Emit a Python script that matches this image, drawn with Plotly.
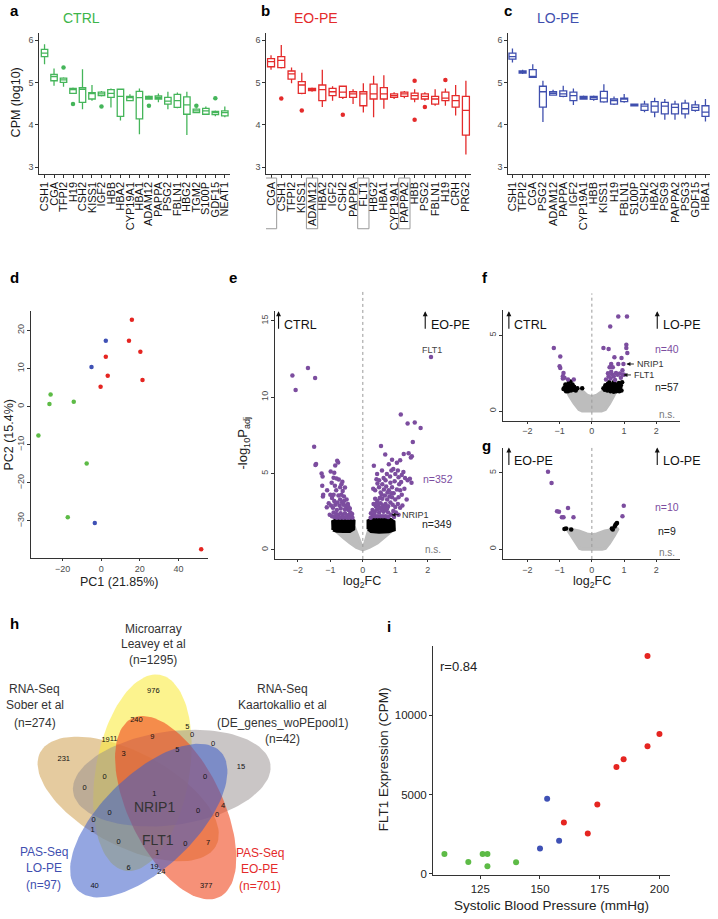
import numpy as np
import plotly.graph_objects as go

W, H = 718, 919
FONT = 'Liberation Sans, Arial, sans-serif'
PURPLE = '#7C4D9F'
GREYPT = '#BDBDBD'
AXC = '#333333'
TICKC = '#4d4d4d'

# ---------------- panel a (CTRL) ----------------
a_genes = ['CSH1', 'CGA', 'TFPI2', 'H19', 'CSH2', 'KISS1', 'IGF2', 'HBB', 'HBA2', 'CYP19A1',
           'HBA1', 'ADAM12', 'PAPPA', 'PSG2', 'FBLN1', 'HBG2', 'TGM2', 'S100P', 'GDF15', 'NEAT1']
a_low = [5.43, 4.92, 4.90, 4.73, 4.37, 4.57, 4.67, 4.41, 4.10, 4.56, 3.78, 4.59, 4.53, 4.37, 4.39, 3.76, 4.28, 4.25, 4.20, 4.18]
a_q1 = [5.61, 5.04, 5.00, 4.74, 4.53, 4.61, 4.69, 4.65, 4.20, 4.57, 4.14, 4.61, 4.61, 4.49, 4.41, 4.25, 4.29, 4.25, 4.24, 4.21]
a_med = [5.69, 5.14, 5.06, 4.83, 4.84, 4.74, 4.73, 4.74, 4.67, 4.64, 4.64, 4.64, 4.64, 4.56, 4.57, 4.47, 4.33, 4.33, 4.29, 4.29]
a_q3 = [5.78, 5.19, 5.10, 4.86, 4.88, 4.76, 4.77, 4.83, 4.84, 4.67, 4.79, 4.67, 4.68, 4.65, 4.72, 4.66, 4.37, 4.39, 4.32, 4.33]
a_high = [5.90, 5.33, 5.12, 4.88, 5.31, 4.94, 4.80, 4.86, 4.84, 4.72, 4.86, 4.69, 4.74, 4.78, 4.76, 4.78, 4.39, 4.43, 4.34, 4.43]
a_out_gene = ['TFPI2', 'H19', 'IGF2', 'ADAM12', 'TGM2', 'GDF15']
a_out_val = [5.35, 4.49, 4.43, 4.45, 4.45, 4.63]

# ---------------- panel b (EO-PE) ----------------
b_genes = ['CGA', 'CSH1', 'TFPI2', 'KISS1', 'ADAM12', 'HBA2', 'IGF2', 'CSH2', 'PAPPA', 'FLT1',
           'HBG2', 'HBA1', 'CYP19A1', 'PAPPA2', 'HBB', 'PSG2', 'FBLN1', 'H19', 'CRH', 'PRG2']
b_low = [5.30, 5.33, 4.98, 4.72, 4.78, 4.42, 4.57, 4.61, 4.49, 4.29, 4.18, 4.38, 4.61, 4.63, 4.53, 4.57, 4.45, 4.45, 4.22, 3.30]
b_q1 = [5.37, 5.35, 5.08, 4.74, 4.81, 4.57, 4.69, 4.65, 4.65, 4.45, 4.61, 4.61, 4.65, 4.67, 4.61, 4.61, 4.49, 4.57, 4.42, 3.76]
b_med = [5.49, 5.52, 5.20, 4.94, 4.85, 4.83, 4.78, 4.77, 4.73, 4.73, 4.73, 4.73, 4.69, 4.73, 4.69, 4.67, 4.61, 4.63, 4.57, 4.34]
b_q3 = [5.56, 5.61, 5.27, 5.02, 4.86, 4.94, 4.86, 4.91, 4.78, 4.78, 4.96, 4.88, 4.73, 4.77, 4.75, 4.73, 4.67, 4.77, 4.69, 4.67]
b_high = [5.64, 5.88, 5.35, 5.23, 4.88, 5.30, 4.91, 4.91, 4.84, 4.98, 5.16, 5.17, 4.77, 4.80, 4.84, 4.77, 4.84, 4.86, 4.94, 5.04]
b_out_gene = ['CSH1', 'KISS1', 'CSH2', 'HBB', 'HBB', 'PSG2', 'H19']
b_out_val = [4.62, 4.34, 4.24, 5.04, 4.12, 4.42, 5.06]
b_boxed = ['CGA', 'ADAM12', 'FLT1', 'PAPPA2']

# ---------------- panel c (LO-PE) ----------------
c_genes = ['CSH1', 'TFPI2', 'CGA', 'PSG2', 'ADAM12', 'PAPPA', 'IGF2', 'CYP19A1', 'HBB', 'KISS1',
           'H19', 'FBLN1', 'S100P', 'CSH2', 'HBA2', 'PSG9', 'PAPPA2', 'PSG3', 'GDF15', 'HBA1']
c_low = [5.47, 5.20, 5.12, 4.07, 4.69, 4.65, 4.47, 4.59, 4.57, 4.52, 4.47, 4.52, 4.45, 4.30, 4.18, 4.12, 4.12, 4.15, 4.31, 4.08]
c_q1 = [5.55, 5.22, 5.12, 4.42, 4.70, 4.67, 4.57, 4.61, 4.60, 4.54, 4.49, 4.55, 4.45, 4.34, 4.30, 4.26, 4.26, 4.26, 4.34, 4.20]
c_med = [5.61, 5.25, 5.14, 4.78, 4.74, 4.73, 4.69, 4.64, 4.64, 4.63, 4.57, 4.61, 4.47, 4.44, 4.44, 4.44, 4.41, 4.38, 4.41, 4.30]
c_q3 = [5.69, 5.27, 5.30, 4.91, 4.78, 4.80, 4.77, 4.67, 4.67, 4.79, 4.61, 4.63, 4.49, 4.49, 4.55, 4.53, 4.49, 4.51, 4.47, 4.45]
c_high = [5.80, 5.30, 5.43, 5.04, 4.83, 4.92, 4.86, 4.69, 4.69, 4.96, 4.67, 4.73, 4.49, 4.57, 4.64, 4.61, 4.57, 4.59, 4.57, 4.61]

# ---------------- panel d (PCA) ----------------
pc1 = [15.9, 2.4, 14.4, 20.3, 2.4, -5.0, 3.4, 21.4, -0.3, -26.2, -26.8, -14.2, -32.5, -7.5, -17.3, -3.3, 51.8]
pc2 = [22.8, 17.3, 17.3, 14.4, 13.1, 10.4, 8.1, 7.0, 5.2, 3.2, 0.7, 1.3, -7.6, -14.9, -29.0, -30.5, -37.4]
pc_group = ['EO', 'LO', 'EO', 'EO', 'EO', 'LO', 'EO', 'EO', 'EO', 'CTRL', 'CTRL', 'CTRL', 'CTRL', 'CTRL', 'CTRL', 'LO', 'EO']

# ---------------- panel e (CTRL vs EO-PE volcano) ----------------
e_sig_x = [-2.17, -2.07, -1.69, -1.47, -1.50, -1.44, -1.46, -1.27, -1.24, -0.99, -0.79, -0.76, -0.85, -0.88, -0.90, -0.81,
           -0.74, -0.63, -0.55, -0.62, -1.25, -1.22, -1.23, -1.10, -1.00, -0.95, -0.88, -0.75, -0.66, -0.58, -0.50, -0.46,
           -1.11, -1.05, -0.98, -0.92, -0.85, -0.80, -0.72, -0.68, -0.60, -0.55, -0.50, -0.44, -0.38, -0.33, -0.90, -0.82,
           -0.75, -0.68, -0.62, -0.55, -0.48, -0.42, -0.36, -0.95, -0.88, -0.80, -0.70, -0.60, -0.50, -0.42, -0.32, -1.02,
           -0.78, -0.70, -0.64, -0.90, -0.82, -0.70, -0.66, -0.96, -0.86, -0.58, -0.52, -0.45, -0.40,
           2.10, 1.17, 1.38, 1.60, 1.78, 1.54, 0.56, 1.41, 1.26, 1.51, 1.48, 0.69, 0.34, 0.90, 1.05, 0.80, 1.15, 0.44, 0.42,
           0.59, 0.74, 0.88, 1.00, 1.10, 1.20, 1.30, 1.38, 1.45, 1.25, 0.98, 0.85, 0.70, 0.60, 0.50, 0.45, 0.38, 0.55, 0.65,
           0.72, 0.80, 0.90, 0.95, 1.05, 1.12, 1.20, 1.28, 1.35, 1.10, 1.00, 0.90, 0.82, 0.75, 0.68, 0.60, 0.52, 0.45, 0.38,
           0.33, 0.40, 0.48, 0.55, 0.62, 0.70, 0.78, 0.85, 0.92, 1.00, 1.08, 1.15, 1.22, 0.30, 0.37, 0.44, 0.50, 0.57, 0.64,
           0.71, 0.78, 0.87, 0.94, 1.02, 1.10, 0.30, 0.38, 0.46, 0.54, 0.62, 0.70, 0.78, 0.96, 0.35, 0.60, 0.52, 0.67, 0.75,
           0.42, 0.58, 0.88, 0.76, 0.64, 0.50, 0.94, 0.84, 1.08, 1.18, 0.32, 1.50, 1.15, 0.25, 0.24]
e_sig_y = [11.43, 10.48, 11.91, 11.26, 6.76, 5.62, 5.55, 5.00, 4.80, 5.13, 5.83, 5.72, 5.52, 5.05, 4.72, 4.68,
           4.60, 4.46, 4.09, 3.85, 4.20, 3.60, 3.50, 3.90, 3.60, 3.40, 3.20, 3.55, 3.60, 3.50, 3.30, 3.00,
           2.78, 3.05, 2.90, 2.75, 2.95, 2.60, 2.90, 2.70, 2.95, 2.65, 2.70, 2.60, 2.45, 2.35, 2.45, 2.35,
           2.30, 2.40, 2.25, 2.40, 2.25, 2.30, 2.20, 2.20, 2.15, 2.10, 2.10, 2.10, 2.10, 2.10, 2.10, 2.30,
           3.10, 3.30, 3.10, 3.60, 3.90, 4.10, 4.30, 4.40, 4.20, 3.20, 2.90, 2.85, 2.70,
           12.63, 8.87, 8.28, 8.35, 7.98, 7.07, 6.80, 6.33, 6.28, 6.13, 6.05, 6.24, 5.50, 5.90, 5.70, 5.60, 5.87, 4.96, 4.63,
           5.20, 4.96, 5.20, 4.96, 4.75, 4.90, 4.70, 4.55, 4.65, 5.10, 4.50, 4.40, 4.55, 4.30, 4.10, 4.35, 3.90, 3.75, 3.95,
           4.15, 3.90, 4.10, 3.70, 3.95, 4.30, 3.60, 4.00, 3.30, 3.45, 3.30, 3.45, 3.50, 3.30, 3.55, 3.35, 3.40, 3.20, 3.35,
           3.00, 2.85, 2.95, 3.05, 2.90, 3.00, 2.85, 3.10, 2.95, 2.80, 3.00, 2.75, 2.90, 2.60, 2.50, 2.65, 2.45, 2.60, 2.50,
           2.60, 2.45, 2.30, 2.55, 2.45, 2.30, 2.20, 2.20, 2.20, 2.20, 2.20, 2.20, 2.15, 2.15, 2.35, 2.70, 2.75, 2.80, 2.70,
           3.05, 3.60, 3.70, 3.75, 4.70, 4.55, 5.30, 4.80, 5.20, 4.45, 4.00, 4.40, 3.90, 2.40, 2.10]
# outline of the dense black (significant, small |FC|) band, left then right (None separates)
e_blk_x = [-0.92, -0.93, -0.80, -0.55, -0.35, -0.27, -0.28, -0.40, -0.60, -0.80, -0.92, None,
           0.16, 0.16, 0.30, 0.60, 0.85, 0.96, 0.97, 0.80, 0.50, 0.25, 0.16]
e_blk_y = [1.30, 1.85, 1.98, 2.02, 2.00, 1.90, 1.35, 1.20, 1.20, 1.22, 1.30, None,
           1.35, 1.90, 2.02, 2.05, 2.00, 1.85, 1.30, 1.18, 1.15, 1.20, 1.35]
# outline of the dense grey (n.s.) cloud
e_ns_x = [-0.95, -0.80, -0.60, -0.40, -0.20, 0.00, 0.20, 0.45, 0.65, 0.85, 0.98, 0.20, 0.05, 0.00, -0.05, -0.25, -0.95]
e_ns_y = [1.45, 1.15, 0.80, 0.45, 0.15, 0.00, 0.15, 0.45, 0.80, 1.15, 1.45, 1.45, 0.35, 0.10, 0.35, 1.45, 1.45]

# ---------------- panel f (CTRL vs LO-PE volcano) ----------------
f_sig_x = [-1.18, -0.98, -1.00, -0.98, -0.88, -0.90, -0.74, -0.56, -0.90, -0.85,
           0.82, 1.09, 0.57, 0.36, 0.52, 1.07, 1.07, 1.10, 0.70, 0.92, 0.60, 0.82, 0.98, 0.55, 0.75,
           0.87, 0.96, 0.63, 0.52, 0.44, 0.68, 0.80, 0.90, 0.58, 0.72, 0.60, 0.50, 0.95, 0.65, 1.00]
f_sig_y = [4.17, 3.60, 2.96, 2.85, 2.52, 2.15, 2.08, 2.08, 2.30, 2.20,
           6.25, 6.25, 5.59, 4.17, 4.10, 4.39, 4.17, 3.84, 3.55, 3.51, 3.11, 3.11, 3.11, 2.89, 2.52,
           2.48, 2.41, 2.41, 2.30, 2.08, 2.30, 2.40, 2.20, 2.15, 2.05, 2.60, 2.50, 2.70, 2.90, 2.40]
f_mid_x = [-0.85, -0.82, -0.78, -0.75, -0.72, -0.70, -0.68, -0.65, -0.62, -0.60, -0.57, -0.55, -0.80, -0.74, -0.66,
           -0.50, -0.45, -0.30, -0.88, -0.64,
           0.36, 0.40, 0.42, 0.45, 0.48, 0.50, 0.52, 0.55, 0.57, 0.60, 0.62, 0.64, 0.66, 0.68, 0.70, 0.72, 0.74,
           0.76, 0.78, 0.80, 0.82, 0.84, 0.86, 0.88, 0.90, 0.92, 0.94, 0.46, 0.54, 0.58, 0.65, 0.70, 0.75, 0.85,
           0.56, 0.62, 0.68]
f_mid_y = [1.55, 1.75, 1.40, 1.60, 1.85, 1.45, 1.65, 1.35, 1.55, 1.75, 1.40, 1.60, 1.30, 1.30, 1.95,
           1.35, 1.50, 1.50, 1.45, 1.48,
           1.50, 1.40, 1.70, 1.55, 1.35, 1.80, 1.60, 1.45, 1.70, 1.55, 1.35, 1.75, 1.50, 1.90, 1.40, 1.65, 1.55,
           1.30, 1.75, 1.45, 1.60, 1.85, 1.40, 1.55, 1.70, 1.35, 1.90, 1.65, 1.90, 1.30, 1.62, 1.78, 1.45, 1.30,
           1.55, 1.68, 1.28]
f_ns_x = [-0.82, -0.70, -0.55, -0.40, -0.30, 0.30, 0.42, 0.55, 0.68, 0.80, 0.35, 0.15, 0.00, -0.15, -0.30, -0.82]
f_ns_y = [1.55, 1.00, 0.50, 0.10, 0.00, 0.00, 0.10, 0.50, 1.00, 1.55, 1.35, 1.05, 0.95, 1.05, 1.35, 1.55]

# ---------------- panel g (EO-PE vs LO-PE volcano) ----------------
g_sig_x = [-1.36, -1.25, -1.08, -0.74, -0.93, -0.88, -0.57, 0.99, 0.95, -1.02]
g_sig_y = [5.07, 4.34, 2.48, 2.70, 2.10, 2.10, 2.10, 2.85, 2.15, 2.45]
g_mid_x = [-0.85, -0.80, -0.64, 0.65, 0.71, 0.76, 0.78, 0.62, 0.73]
g_mid_y = [1.32, 1.36, 1.29, 1.29, 1.49, 1.67, 1.72, 1.36, 1.58]
g_ns_x = [-0.78, -0.65, -0.50, -0.38, -0.30, 0.32, 0.42, 0.55, 0.70, 0.82, 0.40, 0.15, 0.00, -0.15, -0.40, -0.78]
g_ns_y = [1.35, 0.90, 0.40, 0.05, 0.00, 0.00, 0.05, 0.40, 0.90, 1.35, 1.20, 1.00, 0.95, 1.00, 1.20, 1.35]

# ---------------- panel h (5-set Venn) ----------------
venn_names = ['RNA-Seq Sober et al', 'Microarray Leavey et al', 'RNA-Seq Kaartokallio et al', 'PAS-Seq EO-PE', 'PAS-Seq LO-PE']
venn_rot_index = [4, 0, 1, 2, 3]
venn_fill = ['rgba(208,160,80,0.55)', 'rgba(250,234,60,0.58)', 'rgba(150,142,142,0.50)',
             'rgba(240,72,30,0.60)', 'rgba(60,92,200,0.55)']
venn_counts = ['976', '240', '5', '0', '19', '11', '9', '3', '5', '0', '231', '15', '0', '0', '0', '1', '4',
               '0', '0', '0', '0', '1', '0', '0', '7', '1', '6', '19', '24', '40', '377']
venn_count_px = [(152, 695), (135, 724), (186, 731), (191, 739), (104, 744), (112, 743), (151, 741), (122, 758),
                 (176, 754), (212, 748), (62, 763), (240, 771), (103, 781), (204, 781), (83, 792), (153, 798),
                 (222, 811), (108, 818), (197, 816), (216, 820), (92, 825), (91, 835), (117, 847), (184, 849),
                 (207, 848), (156, 858), (127, 873), (153, 872), (160, 877), (93, 891), (205, 891)]

# ---------------- panel i (FLT1 vs SBP) ----------------
sbp = [110, 120, 126, 128, 128, 140, 150, 153, 158, 160, 170, 174, 182, 185, 195, 200, 195]
flt1 = [1250, 750, 1250, 1250, 490, 730, 1600, 4750, 2100, 3250, 2550, 4380, 6750, 7230, 8050, 8820, 13740]
i_group = ['CTRL'] * 6 + ['LO'] * 3 + ['EO'] * 8

GCOL = {'CTRL': '#5DBB46', 'LO': '#3F51B5', 'EO': '#E52521'}

# =====================================================================
def dx(p0, p1):
    return [p0 / W, p1 / W]


def dy(top, bottom):
    return [1 - bottom / H, 1 - top / H]


def axis(**kw):
    d = dict(showline=True, linecolor=AXC, linewidth=1, ticks='outside', ticklen=2.5, tickcolor=AXC,
             tickwidth=1, showgrid=False, zeroline=False,
             tickfont=dict(size=9, color=TICKC, family=FONT))
    d.update(kw)
    return d


fig = go.Figure()
layout = dict(width=W, height=H, margin=dict(l=0, r=0, t=0, b=0), paper_bgcolor='white',
              plot_bgcolor='rgba(0,0,0,0)', showlegend=False, font=dict(family=FONT))
annotations = []
shapes = []


def ann(text, px, py, size=12, color='#222', xanchor='center', yanchor='middle', textangle=0, bold=False):
    if bold:
        text = '<b>' + text + '</b>'
    annotations.append(dict(text=text, x=px / W, y=1 - py / H, xref='paper', yref='paper', showarrow=False,
                            xanchor=xanchor, yanchor=yanchor, textangle=textangle,
                            font=dict(size=size, color=color, family=FONT)))


def arrow(px_tip, py_tip, ax, ay, width=1.1):
    annotations.append(dict(text='', x=px_tip / W, y=1 - py_tip / H, xref='paper', yref='paper',
                            showarrow=True, ax=ax, ay=ay, arrowhead=2, arrowsize=0.9,
                            arrowwidth=width, arrowcolor='#111', standoff=0))


# ---------------- boxes a, b, c ----------------
box_panels = [
    (1, a_genes, a_low, a_q1, a_med, a_q3, a_high, a_out_gene, a_out_val, '#45B55A', (37, 229), [-0.6, 19.55]),
    (2, b_genes, b_low, b_q1, b_med, b_q3, b_high, b_out_gene, b_out_val, '#E42B2B', (265, 471), [-0.5, 19.5]),
    (3, c_genes, c_low, c_q1, c_med, c_q3, c_high, [], [], '#3F4FAE', (508, 711), [-0.45, 19.45]),
]
for n, genes, lo, q1, med, q3, hi, og, ov, col, (x0, x1), xr in box_panels:
    xa = 'x' if n == 1 else f'x{n}'
    ya = 'y' if n == 1 else f'y{n}'
    pos = list(range(len(genes)))
    fig.add_trace(go.Box(x=pos, lowerfence=lo, q1=q1, median=med, q3=q3, upperfence=hi,
                         xaxis=xa, yaxis=ya, line=dict(color=col, width=1.3), fillcolor='white',
                         whiskerwidth=0, width=0.68, boxpoints=False, hoverinfo='skip'))
    if og:
        fig.add_trace(go.Scatter(x=[genes.index(g) for g in og], y=ov, mode='markers', xaxis=xa, yaxis=ya,
                                 marker=dict(color=col, size=4.5), hoverinfo='skip'))
    layout[f'xaxis{n}' if n > 1 else 'xaxis'] = axis(domain=dx(x0, x1), anchor=ya, range=xr,
                                                    tickmode='array', tickvals=pos, ticktext=genes,
                                                    tickangle=-90,
                                                    tickfont=dict(size=11, color='#111', family=FONT))
    layout[f'yaxis{n}' if n > 1 else 'yaxis'] = axis(domain=dy(33, 175), anchor=xa, range=[2.84, 6.17],
                                                    tickvals=[3, 4, 5, 6])

for g in b_boxed:
    i = b_genes.index(g)
    shapes.append(dict(type='rect', xref='x2', yref='paper', x0=i - 0.55, x1=i + 0.55,
                       y0=1 - 230 / H, y1=1 - 179 / H, line=dict(color='#9a9a9a', width=1)))

ann('a', 13, 11, 15, '#000', bold=True)
ann('b', 265, 11, 15, '#000', bold=True)
ann('c', 508, 11, 15, '#000', bold=True)
ann('CTRL', 80, 18, 14, '#3DB54A')
ann('EO-PE', 315, 18, 14, '#E42B2B')
ann('LO-PE', 558, 18, 14, '#3F4FAE')
ann('CPM (log10)', 14, 103, 12.5, '#1a1a1a', textangle=-90)

# ---------------- d: PCA ----------------
for grp in ['CTRL', 'LO', 'EO']:
    xs = [x for x, gg in zip(pc1, pc_group) if gg == grp]
    ys = [y for y, gg in zip(pc2, pc_group) if gg == grp]
    fig.add_trace(go.Scatter(x=xs, y=ys, mode='markers', xaxis='x4', yaxis='y4',
                             marker=dict(color=GCOL[grp], size=4.5), hoverinfo='skip'))
layout['xaxis4'] = axis(domain=dx(29, 207), anchor='y4', range=[-36.4, 55.4], tickvals=[-20, 0, 20, 40],
                        ticklen=2)
layout['yaxis4'] = axis(domain=dy(313, 561), anchor='x4', range=[-39.7, 25], tickvals=[-30, -20, -10, 0, 10, 20],
                        tickangle=-90)
ann('d', 13, 279, 15, '#000', bold=True)
ann('PC1 (21.85%)', 118, 585, 12.5, '#222')
ann('PC2 (15.4%)', 7, 437, 12.5, '#222', textangle=-90)


# ---------------- e, f, g: volcano ----------------
def volcano(n, ns_x, ns_y, mid_x, mid_y, sig_x, sig_y, mid_poly):
    xa, ya = f'x{n}', f'y{n}'
    fig.add_trace(go.Scatter(x=ns_x, y=ns_y, mode='lines', fill='toself', fillcolor=GREYPT,
                             line=dict(color=GREYPT, width=3), xaxis=xa, yaxis=ya, hoverinfo='skip'))
    if mid_poly:
        fig.add_trace(go.Scatter(x=mid_x, y=mid_y, mode='lines', fill='toself', fillcolor='#000',
                                 line=dict(color='#000', width=3), xaxis=xa, yaxis=ya, hoverinfo='skip'))
    else:
        fig.add_trace(go.Scatter(x=mid_x, y=mid_y, mode='markers', marker=dict(color='#000', size=4.5),
                                 xaxis=xa, yaxis=ya, hoverinfo='skip'))
    fig.add_trace(go.Scatter(x=sig_x, y=sig_y, mode='markers', marker=dict(color=PURPLE, size=4.5),
                             xaxis=xa, yaxis=ya, hoverinfo='skip'))


volcano(5, e_ns_x, e_ns_y, e_blk_x, e_blk_y, e_sig_x, e_sig_y, True)
volcano(6, f_ns_x, f_ns_y, f_mid_x, f_mid_y, f_sig_x, f_sig_y, False)
volcano(7, g_ns_x, g_ns_y, g_mid_x, g_mid_y, g_sig_x, g_sig_y, False)

layout['xaxis5'] = axis(domain=dx(274, 451), anchor='y5', range=[-2.71, 2.72], tickvals=[-2, -1, 0, 1, 2], ticklen=2)
layout['yaxis5'] = axis(domain=dy(313, 562), anchor='x5', range=[-0.6, 15.63], tickvals=[0, 5, 10, 15],
                        tickangle=-90)
layout['xaxis6'] = axis(domain=dx(503, 681), anchor='y6', range=[-2.76, 2.74], tickvals=[-2, -1, 0, 1, 2], ticklen=2)
layout['yaxis6'] = axis(domain=dy(312, 423), anchor='x6', range=[-0.64, 6.66], tickvals=[0, 5], tickangle=-90)
layout['xaxis7'] = axis(domain=dx(503, 681), anchor='y7', range=[-2.76, 2.74], tickvals=[-2, -1, 0, 1, 2], ticklen=2)
layout['yaxis7'] = axis(domain=dy(450, 562), anchor='x7', range=[-0.64, 6.66], tickvals=[0, 5], tickangle=-90)

for xa, top, bot in [('x5', 292, 562), ('x6', 295, 423), ('x7', 448, 562)]:
    shapes.append(dict(type='line', xref=xa, yref='paper', x0=0, x1=0, y0=1 - bot / H, y1=1 - top / H,
                       line=dict(color='#9a9a9a', width=1, dash='dot')))

ann('e', 232, 279, 15, '#000', bold=True)
ann('f', 485, 279, 15, '#000', bold=True)
ann('g', 487, 448, 15, '#000', bold=True)
ann('-log<sub>10</sub>P<sub>adj</sub>', 243, 445, 13, '#222', textangle=-90)
ann('log<sub>2</sub>FC', 362, 585, 12.5, '#222')
ann('log<sub>2</sub>FC', 592, 585, 12.5, '#222')

# header arrows & labels
for (tipx, tipy, label, lx) in [(277.7, 313, 'CTRL', 281.5), (425, 313, 'EO-PE', 428.5),
                                (509, 313, 'CTRL', 512.5), (658, 313, 'LO-PE', 661.5),
                                (509, 450, 'EO-PE', 512.5), (658, 450, 'LO-PE', 661.5)]:
    arrow(tipx, tipy, 0, 19)
    ann(label, lx, tipy + 14, 12.5, '#111', xanchor='left')

ann('FLT1', 432, 352, 9, '#444')
ann('NRIP1', 400, 518, 9, '#333', xanchor='left')
arrow(391, 517.5, 9, 0, 0.9)
ann('n=352', 438, 482, 10.5, PURPLE)
ann('n=349', 437, 527, 10.5, '#222')
ann('n.s.', 433, 553, 10, '#777')

ann('NRIP1', 636, 366, 9, '#333', xanchor='left')
arrow(627, 366, 9, 0, 0.9)
ann('FLT1', 633, 377, 9, '#333', xanchor='left')
arrow(624, 377, 9, 0, 0.9)
ann('n=40', 668, 351, 10.5, PURPLE)
ann('n=57', 668, 389, 10.5, '#222')
ann('n.s.', 668, 417, 10, '#777')
ann('n=10', 668, 510, 10.5, PURPLE)
ann('n=9', 668, 534, 10.5, '#222')
ann('n.s.', 668, 556, 10, '#777')

# ---------------- h: Venn ----------------
C = np.array([152.0, 800.0])
off0 = np.array([-11.0, -23.0])
A_SEMI, B_SEMI, ANG0 = 100.0, 47.0, -80.0
t = np.linspace(0, 2 * np.pi, 120)
for k, name in enumerate(venn_names):
    r = np.deg2rad(72 * venn_rot_index[k])
    rot = np.array([[np.cos(r), -np.sin(r)], [np.sin(r), np.cos(r)]])
    cen = C + rot @ off0
    th = np.deg2rad(ANG0) + r
    ex = cen[0] + A_SEMI * np.cos(t) * np.cos(th) - B_SEMI * np.sin(t) * np.sin(th)
    ey = cen[1] + A_SEMI * np.cos(t) * np.sin(th) + B_SEMI * np.sin(t) * np.cos(th)
    fig.add_trace(go.Scatter(x=ex, y=ey, mode='lines', fill='toself', fillcolor=venn_fill[k],
                             line=dict(width=0), xaxis='x8', yaxis='y8', hoverinfo='skip'))
fig.add_trace(go.Scatter(x=[p[0] for p in venn_count_px], y=[p[1] for p in venn_count_px],
                         mode='text', text=venn_counts, textfont=dict(size=7.5, color='#111', family=FONT),
                         xaxis='x8', yaxis='y8', hoverinfo='skip'))
layout['xaxis8'] = dict(domain=[0, 360 / W], anchor='y8', range=[0, 360], visible=False)
layout['yaxis8'] = dict(domain=[0, 329 / H], anchor='x8', range=[919, 590], visible=False)

ann('h', 13, 627, 15, '#000', bold=True)
for txt, y in zip(['Microarray', 'Leavey et al', '(n=1295)'], [632, 648, 664]):
    ann(txt, 152, y, 12, '#333')
for txt, y in zip(['RNA-Seq', 'Sober et al', '(n=274)'], [693, 709, 727]):
    ann(txt, 33, y, 12, '#333')
for txt, y in zip(['RNA-Seq', 'Kaartokallio et al', '(DE_genes_woPEpool1)', '(n=42)'], [693, 709, 727, 743]):
    ann(txt, 282, y, 12, '#333')
for txt, y in zip(['PAS-Seq', 'LO-PE', '(n=97)'], [857, 873, 890]):
    ann(txt, 42, y, 12, '#3F4FB0')
for txt, y in zip(['PAS-Seq', 'EO-PE', '(n=701)'], [858, 874, 891]):
    ann(txt, 259, y, 12, '#E42B2B')
ann('NRIP1', 153, 811, 14, '#333')
ann('FLT1', 157, 845, 14, '#333')

# ---------------- i: FLT1 vs SBP ----------------
for grp in ['CTRL', 'LO', 'EO']:
    xs = [x for x, gg in zip(sbp, i_group) if gg == grp]
    ys = [y for y, gg in zip(flt1, i_group) if gg == grp]
    fig.add_trace(go.Scatter(x=xs, y=ys, mode='markers', xaxis='x9', yaxis='y9',
                             marker=dict(color=GCOL[grp], size=6), hoverinfo='skip'))
layout['xaxis9'] = axis(domain=dx(433, 671), anchor='y9', range=[105.3, 204.5], tickvals=[125, 150, 175, 200],
                        tickfont=dict(size=11.5, color='#222', family=FONT), linewidth=1.2, ticklen=3)
layout['yaxis9'] = axis(domain=dy(650, 880), anchor='x9', range=[-80, 14348], tickvals=[0, 5000, 10000],
                        tickformat='d', tickfont=dict(size=11.5, color='#222', family=FONT),
                        linewidth=1.2, ticklen=3)
ann('i', 389, 630, 15, '#000', bold=True)
ann('r=0.84', 438, 670, 13, '#222', xanchor='left')
ann('Systolic Blood Pressure (mmHg)', 552, 910, 13.5, '#222')
ann('FLT1 Expression (CPM)', 383, 763, 13.5, '#222', textangle=-90)

layout['annotations'] = annotations
layout['shapes'] = shapes
fig.update_layout(**layout)

fig.write_html("out.html", config={'displayModeBar': False},
               post_script="document.body.style.margin='0px';")
